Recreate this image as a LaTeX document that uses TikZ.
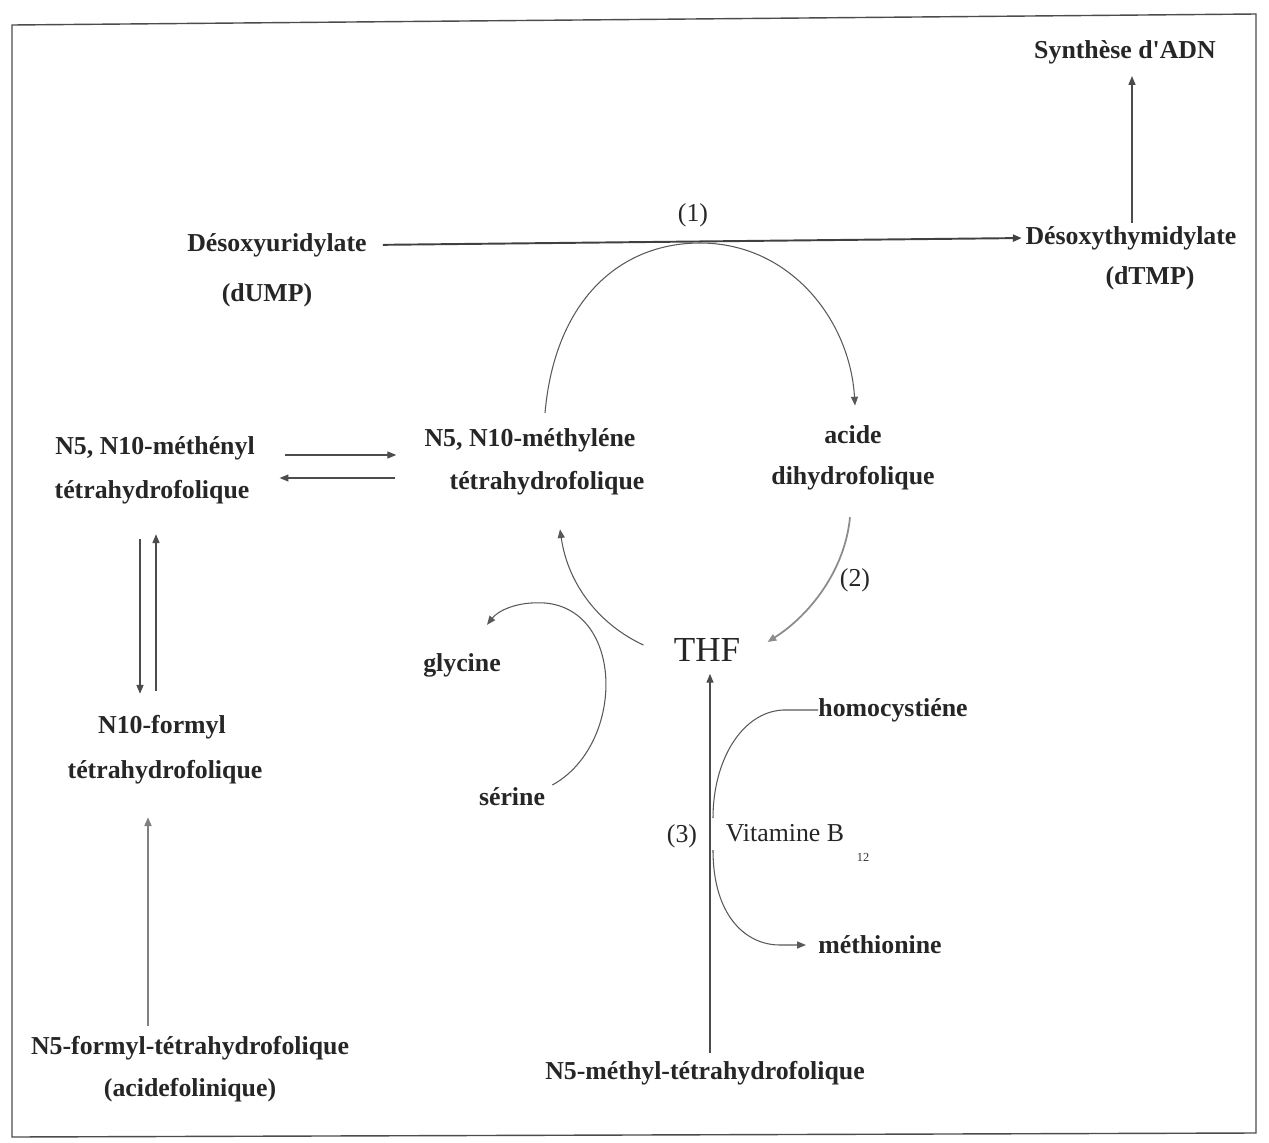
\documentclass[tikz,border=0pt]{standalone}
\usepackage{fontspec}
\setmainfont{Liberation Serif}[Ligatures=TeXOff]
\usetikzlibrary{arrows.meta,calc}
\begin{document}
\begin{tikzpicture}[x=0.02cm,y=-0.02cm,
  lbl/.style={font=\bfseries\fontsize{14.7}{25}\selectfont, text=black!85, inner sep=0pt},
  num/.style={font=\fontsize{14.7}{25}\selectfont, text=black!85, inner sep=0pt},
  tip/.style={-{Triangle[length=5pt,width=4pt]}},
  mainarr/.style={tip, draw=black!75, line width=1.1pt},
  conn/.style={tip, draw=black!70, line width=0.6pt},
  thinarc/.style={draw=black!65, line width=0.6pt},
  lightarr/.style={tip, draw=black!50, line width=0.9pt}
]
\useasboundingbox (0,0) rectangle (1269,1143);
\fill[white] (0,0) rectangle (1269,1143);
% frame
\draw[black!70, line width=0.8pt] (12,25) -- (1256,14) -- (1256,1133) -- (12,1137) -- cycle;

% nodes
\node[lbl] (adn) at (1125,52) {Synthèse d'ADN};
\node[lbl] (dump1) at (277,245) {Désoxyuridylate};
\node[lbl] (dump2) at (267,295) {(dUMP)};
\node[lbl] (dtmp1) at (1131,238) {Désoxythymidylate};
\node[lbl] (dtmp2) at (1150,278) {(dTMP)};
\node[num] (r1) at (693,215) {(1)};
\node[lbl] (menyl1) at (155,448) {N5, N10-méthényl};
\node[lbl] (menyl2) at (152,492) {tétrahydrofolique};
\node[lbl] (mlene1) at (530,440) {N5, N10-méthyléne};
\node[lbl] (mlene2) at (547,483) {tétrahydrofolique};
\node[lbl] (dhf1) at (853,435) {acide};
\node[lbl] (dhf2) at (853,478) {dihydrofolique};
\node[font=\fontsize{20}{22}\selectfont, text=black!85, inner sep=0pt] (thf) at (707,650) {THF};
\node[num] (r2) at (855,580) {(2)};
\node[lbl] (gly) at (462,665) {glycine};
\node[lbl] (ser) at (512,797) {sérine};
\node[lbl] (homo) at (893,710) {homocystiéne};
\node[num] (r3) at (682,836) {(3)};
\node[num] (vitb) at (785,833) {Vitamine B};
\node[font=\fontsize{7}{8}\selectfont, text=black!80, inner sep=0pt] (vit12) at (863,857) {12};
\node[lbl] (meth) at (880,945) {méthionine};
\node[lbl] (form1) at (162,727) {N10-formyl};
\node[lbl] (form2) at (165,772) {tétrahydrofolique};
\node[lbl] (n5f1) at (190,1048) {N5-formyl-tétrahydrofolique};
\node[lbl] (n5f2) at (190,1090) {(acidefolinique)};
\node[lbl] (n5m) at (705,1073) {N5-méthyl-tétrahydrofolique};

% dUMP -> dTMP
\draw[mainarr, shorten <=9pt, shorten >=2pt] (dump1.east) -- (dtmp1.west);
% dTMP -> DNA synthesis
\draw[conn] ($(dtmp1.north)+(1,-3)$) -- ($(adn.south)+(7,12)$);

% cycle arc: methylene -> dihydrofolate
\draw[thinarc, tip] ($(mlene1.north)+(15,-15)$) .. controls (555,300) and (620,243) .. (700,243)
   .. controls (790,243) and (850,320) .. ($(dhf1.north)+(2,-20)$);
% dihydrofolate -> THF
\draw[tip, draw=black!45, line width=1pt] ($(dhf2.south)+(-3,27)$) .. controls (845,570) and (810,615) .. ($(thf.east)+(27,-8)$);
% THF -> methylene
\draw[thinarc, tip] ($(thf.west)+(-30,-5)$) .. controls (600,625) and (568,585) .. ($(mlene2.south)+(13,34)$);

% serine -> glycine
\draw[thinarc, tip] ($(ser.east)+(7,-12)$) .. controls (625,745) and (625,610) .. (545,603)
   .. controls (515,601) and (497,612) .. ($(gly.north)+(25,-28)$);

% methenyl <-> methylene
\draw[conn] ($(menyl1.east)+(30,7)$) -- ($(mlene1.west)+(-28,15)$);
\draw[conn] ($(mlene2.west)+(-54,-5)$) -- ($(menyl2.east)+(30,-14)$);

% methenyl <-> formyl
\draw[conn] ($(menyl2.south)+(-12,35)$) -- ($(form1.north)+(-22,-21)$);
\draw[conn] ($(form1.north)+(-6,-24)$) -- ($(menyl2.south)+(4,30)$);

% N5-formyl -> N10-formyl
\draw[lightarr] ($(n5f1.north)+(-42,-10)$) -- ($(form2.south)+(-17,33)$);

% N5-methyl -> THF
\draw[conn] ($(n5m.north)+(5,-8)$) -- ($(thf.south)+(3,12)$);

% homocysteine -> methionine (vitamin B12)
\draw[thinarc] (homo.west) -- ++(-35,0) .. controls (742,712) and (713,760) .. (713,818);
\draw[thinarc, tip] (713,850) .. controls (713,915) and (745,945) .. (780,945) -- ($(meth.west)+(-12,0)$);
\end{tikzpicture}
\end{document}
